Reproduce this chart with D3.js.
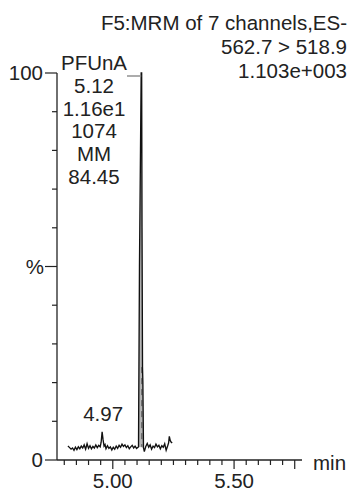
<!DOCTYPE html>
<html><head><meta charset="utf-8">
<script src="https://cdn.jsdelivr.net/npm/d3@7"></script>
<style>html,body{margin:0;padding:0;background:#fff;}svg{display:block;}text{font-family:"Liberation Sans",Arial,sans-serif;fill:#222;}</style>
</head><body><svg id="c" width="353" height="493"></svg>
<script>
// Chromatogram trace: retention time (min) and relative intensity (%)
const times = [4.815,4.822,4.828,4.834,4.840,4.846,4.852,4.858,4.864,4.870,4.876,4.882,4.888,4.894,4.900,4.906,4.912,4.918,4.924,4.930,4.936,4.942,4.948,4.952,4.956,4.960,4.964,4.968,4.972,4.978,4.984,4.990,4.996,5.002,5.008,5.014,5.020,5.026,5.032,5.038,5.044,5.050,5.056,5.062,5.068,5.074,5.080,5.086,5.092,5.098,5.104,5.106,5.110,5.117,5.119,5.1205,5.1225,5.124,5.1265,5.130,5.136,5.142,5.148,5.154,5.160,5.166,5.172,5.178,5.184,5.190,5.196,5.202,5.208,5.214,5.220,5.226,5.230,5.233,5.237,5.241,5.245];
const intensity = [3.6,3.2,2.8,3.1,2.5,3.3,2.7,3.4,2.9,3.6,3.1,3.9,2.8,4.2,3.0,3.7,2.9,3.5,3.1,3.9,3.2,3.8,3.4,4.6,7.3,5.2,3.6,4.0,2.9,3.7,3.0,3.4,2.6,3.3,2.8,3.6,3.0,3.8,3.3,4.1,3.5,3.9,3.2,3.7,2.9,3.4,3.8,3.1,3.6,3.0,3.3,3.4,50,100,100,60,24,20,3.2,2.2,3.5,4.3,3.3,3.9,2.8,3.6,3.2,4.1,3.4,3.8,2.9,3.7,3.3,4.2,2.5,3.6,4.4,6.1,5.0,4.6,4.4];
// Integrated peak window
const peakStart = 5.106, peakEnd = 5.1265;
const xTicksMajor = [5.00, 5.50];
const xTicksMinor = [4.80,4.85,4.90,4.95,5.05,5.10,5.15,5.20,5.25,5.30,5.35,5.40,5.45,5.55,5.60,5.65,5.70,5.75];
const yTicksMajor = [0, 50, 100];
const yTicksMinor = [10,20,30,40,60,70,80,90];
const yLabels = [{v:0,t:"0"},{v:50,t:"%"},{v:100,t:"100"}];
const titleLines = ["F5:MRM of 7 channels,ES-","562.7 > 518.9","1.103e+003"];
const peakLabel = ["PFUnA","5.12","1.16e1","1074","MM","84.45"];
const minorPeak = {t:4.956, label:"4.97"};

const svg = d3.select("#c");
const x = d3.scaleLinear().domain([4.77, 5.78]).range([57, 302]);
const y = d3.scaleLinear().domain([0, 100]).range([460, 73]);
const fs = 20.5;

// axes
svg.append("line").attr("x1",57).attr("x2",57).attr("y1",y(100)).attr("y2",y(0)).attr("stroke","#222").attr("stroke-width",1.3);
svg.append("line").attr("x1",57).attr("x2",x.range()[1]).attr("y1",y(0)).attr("y2",y(0)).attr("stroke","#222").attr("stroke-width",1.3);
svg.selectAll(".xmin").data(xTicksMinor).enter().append("line").attr("x1",d=>x(d)).attr("x2",d=>x(d)).attr("y1",y(0)).attr("y2",d=>y(0)+(d===5.75?9:5)).attr("stroke","#222").attr("stroke-width",1.2);
svg.selectAll(".xmaj").data(xTicksMajor).enter().append("line").attr("x1",d=>x(d)).attr("x2",d=>x(d)).attr("y1",y(0)).attr("y2",y(0)+9).attr("stroke","#222").attr("stroke-width",1.2);
svg.selectAll(".xl").data(xTicksMajor).enter().append("text").attr("x",d=>x(d)).attr("y",y(0)+28).attr("text-anchor","middle").attr("font-size",fs).text(d=>d3.format(".2f")(d));
svg.append("text").attr("x",313).attr("y",y(0)+10).attr("font-size",fs).text("min");
svg.selectAll(".ymin").data(yTicksMinor).enter().append("line").attr("x1",52).attr("x2",57).attr("y1",d=>y(d)).attr("y2",d=>y(d)).attr("stroke","#222").attr("stroke-width",1.2);
svg.selectAll(".ymaj").data(yTicksMajor).enter().append("line").attr("x1",45).attr("x2",57).attr("y1",d=>y(d)).attr("y2",d=>y(d)).attr("stroke","#222").attr("stroke-width",1.2);
svg.selectAll(".yl").data(yLabels).enter().append("text").attr("x",d=>d.t==="%"?44:43).attr("y",d=>y(d.v)+7).attr("text-anchor","end").attr("font-size",fs).text(d=>d.t);

// titles
svg.selectAll(".tt").data(titleLines).enter().append("text").attr("x",347).attr("y",(d,i)=>30+i*24).attr("text-anchor","end").attr("font-size",fs).text(d=>d);

const pts = times.map((t,i)=>({t, v:intensity[i]}));
// shaded peak area
const inPeak = pts.filter(p=>p.t>=peakStart && p.t<=peakEnd);
const baseV0 = inPeak[0].v, baseV1 = inPeak[inPeak.length-1].v;
const baseAt = t => baseV0 + (baseV1-baseV0)*(t-peakStart)/(peakEnd-peakStart);
svg.append("path").datum(inPeak)
  .attr("d", d3.area().x(p=>x(p.t)).y0(p=>y(baseAt(p.t))).y1(p=>y(p.v)))
  .attr("fill","#b5b5b5").attr("stroke","none");
// dashed drop line inside peak
svg.append("line").attr("x1",x(5.1195)).attr("x2",x(5.1195)).attr("y1",y(24)).attr("y2",y(3.4)).attr("stroke","#555").attr("stroke-width",1).attr("stroke-dasharray","6,5");
// trace
svg.append("path").datum(pts).attr("d", d3.line().x(p=>x(p.t)).y(p=>y(p.v)))
  .attr("fill","none").attr("stroke","#111").attr("stroke-width",1.35);
// grey leader at apex
svg.append("line").attr("x1",127).attr("x2",x(5.117)).attr("y1",y(100)+3).attr("y2",y(100)+3).attr("stroke","#888").attr("stroke-width",1.4);

// peak label block
svg.selectAll(".pl").data(peakLabel).enter().append("text").attr("x",94).attr("y",(d,i)=>70+i*22.8).attr("text-anchor","middle").attr("font-size",fs).text(d=>d);
svg.append("text").attr("x",x(minorPeak.t)+1).attr("y",421).attr("text-anchor","middle").attr("font-size",fs).text(minorPeak.label);
</script></body></html>
